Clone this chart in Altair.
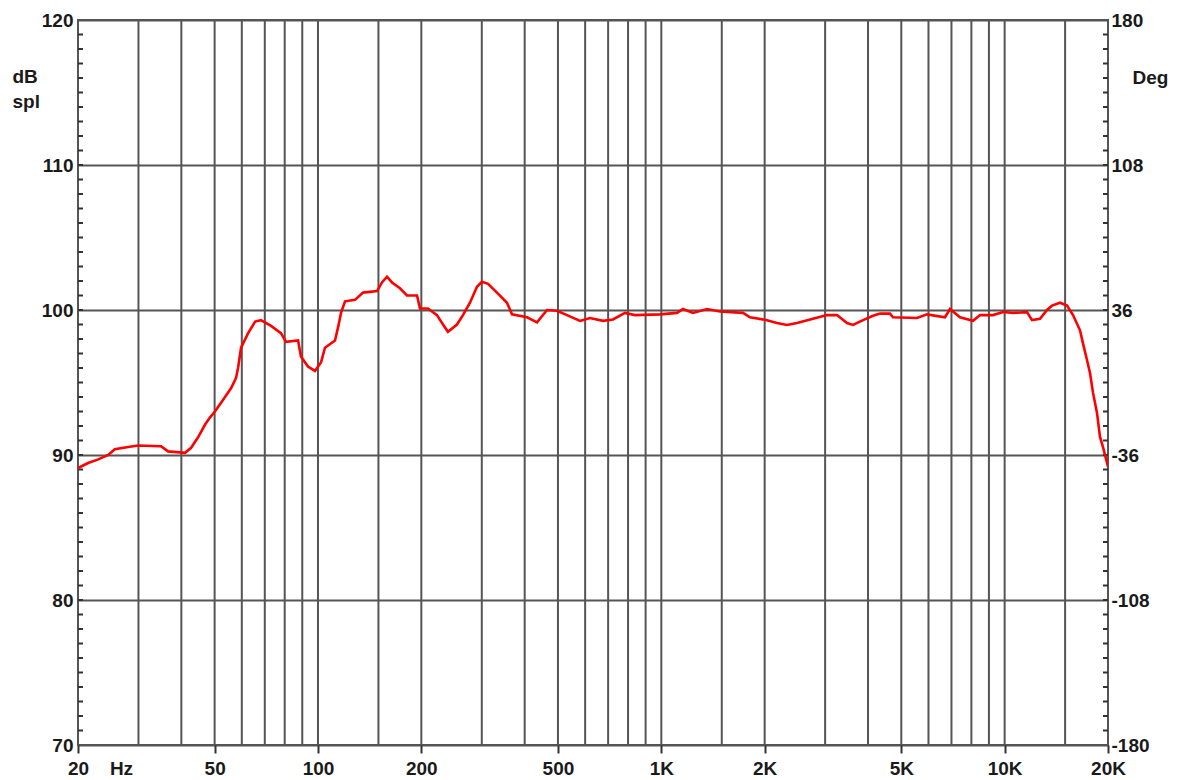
import altair as alt
import pandas as pd

# ---------------- data ----------------
freq = [20, 21.4, 22.9, 24.5, 25.6, 28.0, 29.9, 34.9, 36.6, 41.0, 42.7, 44.7, 46.9, 48.5,
        50.1, 52.2, 55.8, 57.7, 58.5, 59.7, 62.6, 65.6, 68.2, 73.0, 78.0, 80.7, 87.5, 89.2,
        93.5, 98.0, 102.1, 104.8, 112.1, 114.4, 116.7, 119.9, 128.2, 135.3, 148.6, 153.6,
        158.9, 164.3, 173.3, 181.6, 194.3, 198.2, 209.1, 222.1, 231.3, 239.1, 254.0, 264.4,
        277.1, 290.5, 300.4, 312.8, 332.2, 355.2, 367.4, 406.3, 434.5, 464.6, 496.9, 531.3,
        579.8, 619.8, 676.3, 723.1, 784.0, 838.3, 991.3, 1110.9, 1156.5, 1236.7, 1358.5,
        1482.5, 1729.6, 1812.7, 2031.6, 2172.6, 2323.2, 2484.4, 2765.2, 3037.9, 3248.9,
        3474.4, 3617, 3868, 4137, 4335, 4635, 4729, 5555, 5942, 6703, 6932, 7412, 8090,
        8479, 9249, 9889, 10577, 11619, 12016, 12677, 13286, 13739, 14496, 15193, 15817,
        16576, 16912, 17372, 17726, 18086, 18578, 18956, 19340, 20000]
spl = [89.1, 89.45, 89.7, 90.0, 90.4, 90.55, 90.65, 90.6, 90.25, 90.15, 90.5, 91.2, 92.1, 92.6,
       93.0, 93.6, 94.6, 95.3, 96.0, 97.4, 98.4, 99.2, 99.3, 98.9, 98.4, 97.8, 97.9, 96.8,
       96.1, 95.8, 96.4, 97.4, 97.9, 98.8, 99.8, 100.6, 100.7, 101.2, 101.3, 101.9,
       102.3, 101.9, 101.5, 101.0, 101.0, 100.1, 100.1, 99.65, 99.0, 98.5, 99.0, 99.65,
       100.5, 101.6, 101.95, 101.8, 101.2, 100.5, 99.7, 99.5, 99.15, 100.0, 99.95, 99.65,
       99.25, 99.45, 99.25, 99.35, 99.8, 99.65, 99.7, 99.8, 100.07, 99.8, 100.07,
       99.9, 99.8, 99.5, 99.3, 99.1, 98.97, 99.1, 99.4, 99.65, 99.65,
       99.1, 98.97, 99.3, 99.6, 99.75, 99.75, 99.5, 99.45, 99.7, 99.5, 100.07, 99.5, 99.25,
       99.65, 99.65, 99.86, 99.8, 99.85, 99.3, 99.4, 100.0, 100.3, 100.5, 100.3, 99.65,
       98.6, 97.7, 96.55, 95.65, 94.3, 92.9, 91.25, 90.55, 89.2]

grid_freqs = [30, 40, 50, 60, 70, 80, 90, 100, 150, 200, 300, 400, 500, 600, 700, 800, 900,
              1000, 1500, 2000, 3000, 4000, 5000, 6000, 7000, 8000, 9000, 10000, 15000]
x_tick_values = [20, 50, 100, 200, 500, 1000, 2000, 5000, 10000, 20000]
x_tick_labels = ["20", "50", "100", "200", "500", "1K", "2K", "5K", "10K", "20K"]
db_ticks = [70, 80, 90, 100, 110, 120]
deg_ticks = [-180, -108, -36, 36, 108, 180]
minor_db = list(range(71, 120))

# ---------------- styling ----------------
W, H = 1030, 725
FONT = "Liberation Sans"
FS = 19
GRID = "#555555"
TXT = "#1a1a1a"

x_scale = alt.Scale(type="log", domain=[20, 20000], nice=False)
y_scale = alt.Scale(domain=[70, 120], nice=False, zero=False)

label_map = "{" + ",".join(f"'{v}':'{l}'" for v, l in zip(x_tick_values, x_tick_labels)) + "}"

x_axis = alt.Axis(values=x_tick_values, labelExpr=f"{label_map}['' + datum.value]",
                  grid=False, domain=False, ticks=True, tickSize=8, tickWidth=2,
                  tickColor="#333333", labelFlush=False, labelOverlap=False, labelBound=False,
                  labelFont=FONT, labelFontSize=FS, labelFontWeight="bold", labelColor=TXT,
                  labelBaseline="alphabetic", labelPadding=21,
                  title="Hz", titleX=43, titleY=29, titleAlign="center",
                  titleBaseline="alphabetic", titleFont=FONT, titleFontSize=FS,
                  titleFontWeight="bold", titleColor=TXT)

y_axis = alt.Axis(values=db_ticks, grid=True, gridColor=GRID, gridWidth=2, gridOpacity=1,
                  domain=False, ticks=False, labelPadding=5,
                  labelFont=FONT, labelFontSize=FS, labelFontWeight="bold", labelColor=TXT,
                  title=["dB", "spl"], titleAngle=0, titleX=-66, titleY=62, titleAlign="left",
                  titleBaseline="alphabetic", titleLineHeight=25, titleFont=FONT,
                  titleFontSize=FS, titleFontWeight="bold", titleColor=TXT)

curve_df = pd.DataFrame({"freq": freq, "spl": spl})
grid_df = pd.DataFrame({"freq": grid_freqs})
minor_df = pd.DataFrame({"spl": minor_db})
deg_df = pd.DataFrame({"deg": deg_ticks})

vgrid = alt.Chart(grid_df).mark_rule(color=GRID, strokeWidth=2).encode(
    x=alt.X("freq:Q", scale=x_scale, axis=x_axis)
)

left_minor = alt.Chart(minor_df).mark_rule(color="#333333", strokeWidth=2).encode(
    y=alt.Y("spl:Q", scale=y_scale, axis=y_axis),
    x=alt.value(0), x2=alt.value(5)
)
right_minor = alt.Chart(minor_df).mark_rule(color="#333333", strokeWidth=2).encode(
    y=alt.Y("spl:Q", scale=y_scale, axis=y_axis),
    x=alt.value(W - 5), x2=alt.value(W)
)

curve = alt.Chart(curve_df).mark_line(color="#ff0000", strokeWidth=2.6, clip=True).encode(
    x=alt.X("freq:Q", scale=x_scale, axis=x_axis),
    y=alt.Y("spl:Q", scale=y_scale, axis=y_axis),
    order="freq:Q",
)

main = alt.layer(vgrid, left_minor, right_minor, curve)

right_axis = alt.Chart(deg_df).mark_point(opacity=0).encode(
    y=alt.Y("deg:Q", scale=alt.Scale(domain=[-180, 180], nice=False, zero=False),
            axis=alt.Axis(orient="right", values=deg_ticks, grid=False, domain=False,
                          ticks=False, labelPadding=3, labelAlign="left",
                          labelExpr="datum.value < 0 ? '-' + abs(datum.value) : '' + datum.value",
                          labelFont=FONT, labelFontSize=FS, labelFontWeight="bold",
                          labelColor=TXT, title="Deg", titleAngle=0, titleX=24, titleY=63,
                          titleAlign="left", titleBaseline="alphabetic", titleFont=FONT,
                          titleFontSize=FS, titleFontWeight="bold", titleColor=TXT))
)

chart = alt.layer(main, right_axis).resolve_scale(y="independent").properties(
    width=W, height=H,
    autosize=alt.AutoSizeParams(type="none"),
    padding={"left": 70, "top": 12, "right": 70, "bottom": 35},
    background="white",
).configure_view(stroke=GRID, strokeWidth=2)

chart.save("out.html", embed_options={"renderer": "svg", "actions": False})
